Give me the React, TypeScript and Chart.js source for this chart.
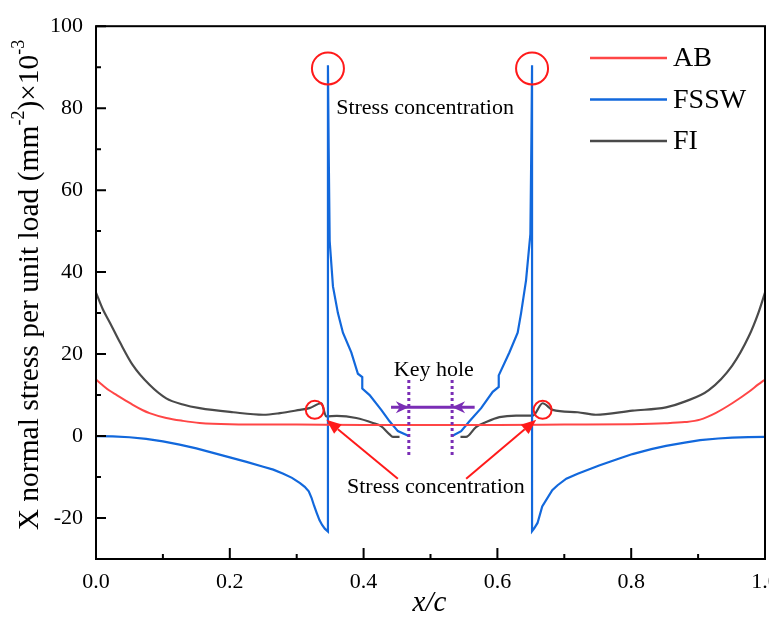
import React, { useEffect, useRef } from "react";
import { Chart, registerables } from "chart.js";

Chart.register(...registerables);

// ---------- data ----------
const abX = [0, 0.01, 0.02, 0.031, 0.045, 0.055, 0.07, 0.08, 0.105, 0.13, 0.155, 0.2, 0.3, 0.4, 0.5, 0.6, 0.7, 0.8, 0.85, 0.88, 0.903, 0.926, 0.951, 0.976, 0.99, 1.0];
const abY = [13.8, 12.4, 11.1, 10.0, 8.6, 7.6, 6.3, 5.6, 4.4, 3.7, 3.2, 2.9, 2.8, 2.7, 2.7, 2.7, 2.8, 2.9, 3.1, 3.4, 4.0, 5.6, 8.0, 10.8, 12.6, 13.8];

const fsswX = [0, 0.025, 0.05, 0.075, 0.1, 0.125, 0.15, 0.175, 0.2, 0.225, 0.25, 0.265, 0.28, 0.293, 0.305, 0.312, 0.318, 0.322, 0.326, 0.33, 0.334, 0.338, 0.342, 0.3467,
  0.3467, 0.3478, 0.3493, 0.3542, 0.3616, 0.3691, 0.3816, 0.3915, 0.398, 0.398, 0.409, 0.4264, 0.4388, 0.4512, 0.4676,
  0.5,
  0.5323, 0.5458, 0.5582, 0.5757, 0.593, 0.602, 0.602, 0.6179, 0.6303, 0.6354, 0.6428, 0.6493, 0.6508, 0.6518,
  0.6518, 0.655, 0.66, 0.667, 0.682, 0.69, 0.703, 0.72, 0.752, 0.78, 0.802, 0.83, 0.852, 0.88, 0.903, 0.93, 0.951, 0.975, 1.0];
const fsswY = [0, -0.1, -0.3, -0.7, -1.3, -2.1, -3.0, -4.1, -5.2, -6.3, -7.5, -8.2, -9.2, -10.2, -11.5, -12.4, -13.5, -15.0, -17.0, -18.8, -20.5, -21.7, -22.6, -23.3,
  90.5, 70, 47.6, 36.5, 30.0, 25.2, 20.4, 15.2, 14.4, 11.6, 10.0, 6.4, 3.6, 1.2, 0,
  null,
  0, 1.2, 3.6, 6.8, 10.8, 12.0, 14.8, 20.4, 25.2, 30.0, 38.0, 49.3, 72, 90.5,
  -23.2, -22.5, -21.2, -17.2, -13.2, -12.0, -10.4, -9.2, -7.2, -5.6, -4.4, -3.2, -2.4, -1.6, -1.0, -0.6, -0.4, -0.25, -0.2];

const fiX = [0, 0.01, 0.021, 0.036, 0.055, 0.08, 0.105, 0.13, 0.155, 0.205, 0.25, 0.275, 0.305, 0.319, 0.337, 0.344, 0.36, 0.389, 0.414, 0.426, 0.4388, 0.4438, 0.4537,
  0.5,
  0.5448, 0.553, 0.568, 0.583, 0.603, 0.628, 0.653, 0.6676, 0.6825, 0.72, 0.747, 0.802, 0.852, 0.88, 0.916, 0.951, 0.976, 0.99, 1.0];
const fiY = [35.0, 31.0, 27.6, 22.8, 17.3, 12.5, 9.2, 7.7, 6.8, 5.8, 5.2, 5.6, 6.4, 6.8, 8.0, 4.8, 4.9, 4.4, 3.2, 2.4, 0.4, -0.2, -0.2,
  null,
  -0.2, -0.2, 2.2, 3.4, 4.6, 5.0, 5.0, 8.0, 6.4, 5.8, 5.2, 6.2, 7.0, 8.4, 11.2, 17.2, 24.4, 30.0, 35.0];

const seriesNames = ["AB", "FSSW", "FI"];
const seriesColors = ["#ff4646", "#1268dc", "#4a4a4a"];
const seriesSmooth = [true, false, true];

const yTicks = [-20, 0, 20, 40, 60, 80, 100];
const yMinorTicks = [-10, 10, 30, 50, 70, 90];
const xTicks = [0, 0.2, 0.4, 0.6, 0.8, 1.0];
const xMinorTicks = [0.1, 0.3, 0.5, 0.7, 0.9];

// ---------- annotations (data coordinates) ----------
const peakCircles = [[0.3467, 89.7], [0.6518, 89.7]];
const jointCircles = [[0.327, 6.4], [0.6676, 6.4]];
const arrowTails = [[0.4512, -10.4], [0.5533, -10.4]];
const arrowTips = [[0.3443, 4.0], [0.658, 4.0]];
const keyHoleEdges = [0.4676, 0.5323];
const keyHoleSpan = [13.7, -5.2];
const keyArrowY = 7.0;
const keyArrowEnds = [0.441, 0.566];
const topLabel = { text: "Stress concentration", x: 0.359, y: 80.1 };
const bottomLabel = { text: "Stress concentration", x: 0.508, y: -12.4 };
const keyLabel = { text: "Key hole", x: 0.505, y: 16.0 };

const FONT = "'Liberation Serif', 'Times New Roman', serif";

function toPoints(xs: number[], ys: (number | null)[]) {
  return xs.map((x, i) => ({ x, y: ys[i] }));
}

const decorPlugin = {
  id: "decor",
  afterDatasetsDraw(chart: any) {
    const { ctx, chartArea } = chart;
    const xs = chart.scales.x;
    const ys = chart.scales.y;
    const px = (v: number) => xs.getPixelForValue(v);
    const py = (v: number) => ys.getPixelForValue(v);
    const red = "#ff1a1a";
    const purple = "#7a2db5";

    ctx.save();
    // circles
    ctx.strokeStyle = red;
    ctx.lineWidth = 2;
    peakCircles.forEach(([x, y]) => {
      ctx.beginPath();
      ctx.arc(px(x), py(y), 16, 0, Math.PI * 2);
      ctx.stroke();
    });
    jointCircles.forEach(([x, y]) => {
      ctx.beginPath();
      ctx.arc(px(x), py(y), 9, 0, Math.PI * 2);
      ctx.stroke();
    });
    // red arrows
    arrowTails.forEach((t, i) => {
      const x0 = px(t[0]), y0 = py(t[1]);
      const x1 = px(arrowTips[i][0]), y1 = py(arrowTips[i][1]);
      const ang = Math.atan2(y1 - y0, x1 - x0);
      const L = 15, W = 6;
      const bx = x1 - L * Math.cos(ang), by = y1 - L * Math.sin(ang);
      ctx.strokeStyle = red;
      ctx.fillStyle = red;
      ctx.lineWidth = 2;
      ctx.beginPath();
      ctx.moveTo(x0, y0);
      ctx.lineTo(bx, by);
      ctx.stroke();
      ctx.beginPath();
      ctx.moveTo(x1, y1);
      ctx.lineTo(bx + W * Math.sin(ang), by - W * Math.cos(ang));
      ctx.lineTo(bx - W * Math.sin(ang), by + W * Math.cos(ang));
      ctx.closePath();
      ctx.fill();
    });
    // key hole dotted lines
    ctx.strokeStyle = purple;
    ctx.lineWidth = 3;
    ctx.setLineDash([3, 3]);
    keyHoleEdges.forEach((x) => {
      ctx.beginPath();
      ctx.moveTo(px(x), py(keyHoleSpan[0]));
      ctx.lineTo(px(x), py(keyHoleSpan[1]));
      ctx.stroke();
    });
    ctx.setLineDash([]);
    // key hole arrow
    const ay = py(keyArrowY);
    ctx.lineWidth = 3;
    ctx.beginPath();
    ctx.moveTo(px(keyArrowEnds[0]), ay);
    ctx.lineTo(px(keyArrowEnds[1]), ay);
    ctx.stroke();
    ctx.fillStyle = purple;
    [[keyHoleEdges[0], 1], [keyHoleEdges[1], -1]].forEach(([x, d]) => {
      const tx = px(x);
      ctx.beginPath();
      ctx.moveTo(tx, ay);
      ctx.lineTo(tx - d * 13, ay - 6);
      ctx.lineTo(tx - d * 9, ay);
      ctx.lineTo(tx - d * 13, ay + 6);
      ctx.closePath();
      ctx.fill();
    });
    // texts
    ctx.fillStyle = "#000";
    ctx.font = `22px ${FONT}`;
    ctx.textBaseline = "middle";
    ctx.textAlign = "left";
    ctx.fillText(topLabel.text, px(topLabel.x), py(topLabel.y));
    ctx.textAlign = "center";
    ctx.fillText(bottomLabel.text, px(bottomLabel.x), py(bottomLabel.y));
    ctx.fillText(keyLabel.text, px(keyLabel.x), py(keyLabel.y));

    // legend
    ctx.font = `28px ${FONT}`;
    ctx.textAlign = "left";
    chart.data.datasets.forEach((ds: any, i: number) => {
      const yy = 58 + i * 41.5;
      ctx.strokeStyle = ds.borderColor;
      ctx.lineWidth = 2.5;
      ctx.beginPath();
      ctx.moveTo(590, yy);
      ctx.lineTo(667, yy);
      ctx.stroke();
      ctx.fillStyle = "#000";
      ctx.fillText(ds.label, 673, yy + 1);
    });

    // frame
    ctx.strokeStyle = "#000";
    ctx.lineWidth = 2;
    ctx.strokeRect(chartArea.left, chartArea.top, chartArea.right - chartArea.left, chartArea.bottom - chartArea.top);
    // inward ticks
    ctx.beginPath();
    yTicks.forEach((v) => { ctx.moveTo(chartArea.left, py(v)); ctx.lineTo(chartArea.left + 10, py(v)); });
    yMinorTicks.forEach((v) => { ctx.moveTo(chartArea.left, py(v)); ctx.lineTo(chartArea.left + 5, py(v)); });
    xTicks.forEach((v) => { ctx.moveTo(px(v), chartArea.bottom); ctx.lineTo(px(v), chartArea.bottom - 11); });
    xMinorTicks.forEach((v) => { ctx.moveTo(px(v), chartArea.bottom); ctx.lineTo(px(v), chartArea.bottom - 5); });
    ctx.stroke();

    // x title
    ctx.font = `italic 29px ${FONT}`;
    ctx.textAlign = "center";
    ctx.fillText("x/c", (chartArea.left + chartArea.right) / 2 - 1, 603);

    // y title with superscripts
    const main = `29.5px ${FONT}`;
    const sup = `18px ${FONT}`;
    const segs: [string, boolean][] = [
      ["X normal stress per unit load (mm", false],
      ["-2", true],
      [")×10", false],
      ["-3", true],
    ];
    let total = 0;
    const widths = segs.map(([t, s]) => {
      ctx.font = s ? sup : main;
      const w = ctx.measureText(t).width;
      total += w;
      return w;
    });
    ctx.translate(30, 285);
    ctx.rotate(-Math.PI / 2);
    ctx.textAlign = "left";
    let cx = -total / 2;
    segs.forEach(([t, s], i) => {
      ctx.font = s ? sup : main;
      ctx.fillText(t, cx, s ? -11 : 0);
      cx += widths[i];
    });
    ctx.restore();
  },
};

export default function App() {
  const ref = useRef<HTMLCanvasElement | null>(null);
  useEffect(() => {
    if (!ref.current) return;
    const series = [toPoints(abX, abY), toPoints(fsswX, fsswY), toPoints(fiX, fiY)];
    const chart = new Chart(ref.current, {
      type: "scatter",
      data: {
        datasets: series.map((d, i) => ({
          label: seriesNames[i],
          data: d,
          showLine: true,
          borderColor: seriesColors[i],
          backgroundColor: seriesColors[i],
          borderWidth: i === 0 ? 2 : 2.2,
          pointRadius: 0,
          pointHoverRadius: 0,
          cubicInterpolationMode: seriesSmooth[i] ? "monotone" : "default",
          tension: 0,
          spanGaps: false,
        })),
      },
      options: {
        animation: false,
        responsive: false,
        events: [],
        layout: { padding: { left: 0, top: 21, right: 35, bottom: 0 } },
        plugins: { legend: { display: false }, tooltip: { enabled: false } },
        scales: {
          x: {
            type: "linear",
            min: 0,
            max: 1,
            grid: { display: false, drawTicks: false },
            border: { display: false },
            afterBuildTicks: (s: any) => { s.ticks = xTicks.map((v) => ({ value: v })); },
            afterFit: (s: any) => { s.height = 69; },
            ticks: {
              padding: 10,
              color: "#000",
              font: { family: FONT, size: 22 },
              maxRotation: 0,
              callback: (v: any) => Number(v).toFixed(1),
            },
          },
          y: {
            type: "linear",
            min: -30,
            max: 100,
            grid: { display: false, drawTicks: false },
            border: { display: false },
            afterBuildTicks: (s: any) => { s.ticks = yTicks.map((v) => ({ value: v })); },
            afterFit: (s: any) => { s.width = 96; },
            ticks: {
              padding: 13,
              color: "#000",
              font: { family: FONT, size: 22 },
              callback: (v: any) => String(v),
            },
          },
        },
      },
      plugins: [decorPlugin],
    });
    return () => chart.destroy();
  }, []);
  return (
    <div style={{ position: "fixed", left: 0, top: 0, width: 769, height: 628, overflow: "hidden", background: "#fff" }}>
      <canvas ref={ref} width={800} height={628} style={{ width: 800, height: 628, display: "block" }} />
    </div>
  );
}
